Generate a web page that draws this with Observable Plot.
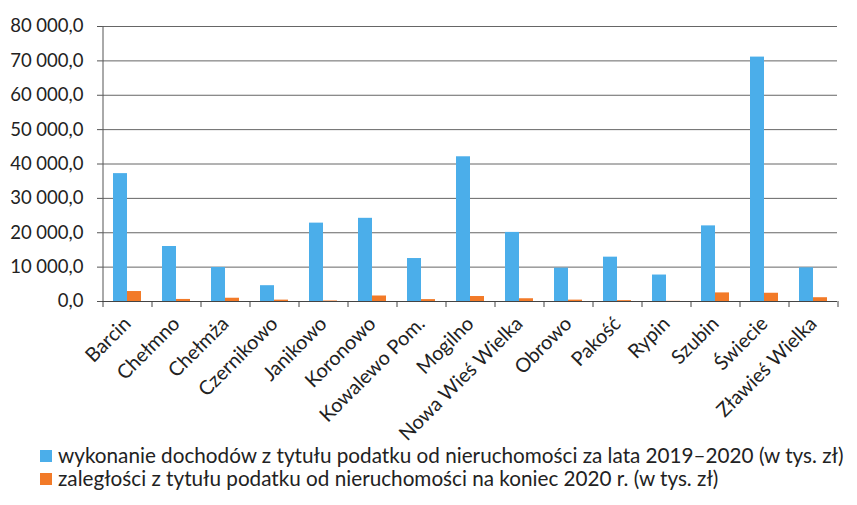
<!DOCTYPE html>
<html>
<head>
<meta charset="utf-8">
<script src="https://cdn.jsdelivr.net/npm/d3@7"></script>
<script src="https://cdn.jsdelivr.net/npm/@observablehq/plot@0.6"></script>
<style>
  html, body { margin: 0; padding: 0; background: #fff; }
  body { width: 857px; height: 505px; overflow: hidden; font-family: Lato, "Open Sans", sans-serif; color: #222; }
  #chart svg { overflow: visible; }
  #legend { margin-left: 40px; margin-top: -6px; font-size: 20.7px; line-height: 23px; position: relative; }
  .item { display: flex; align-items: center; white-space: nowrap; }
  .sw { width: 12px; height: 12px; margin-right: 6px; flex: none; }
</style>
</head>
<body>
<div id="chart"></div>
<div id="legend"></div>
<script>
const categories = ["Barcin","Chełmno","Chełmża","Czernikowo","Janikowo","Koronowo","Kowalewo Pom.","Mogilno","Nowa Wieś Wielka","Obrowo","Pakość","Rypin","Szubin","Świecie","Zławieś Wielka"];
const income  = [37200, 16000, 9900, 4600, 22800, 24200, 12500, 42100, 20100, 9700, 12900, 7700, 22000, 71100, 9800];
const arrears = [2900, 600, 950, 400, 150, 1600, 550, 1450, 800, 400, 250, 50, 2500, 2400, 1100];
const seriesNames = [
  "wykonanie dochodów z tytułu podatku od nieruchomości za lata 2019–2020 (w tys. zł)",
  "zaległości z tytułu podatku od nieruchomości na koniec 2020 r. (w tys. zł)"
];
const colors = ["#4BAEEA", "#F27A28"];
const yTicks = [0, 10000, 20000, 30000, 40000, 50000, 60000, 70000, 80000];

const data = categories.map((c, i) => ({category: c, income: income[i], arrears: arrears[i]}));

const fmt = d3.formatLocale({decimal: ",", thousands: "\u00a0", grouping: [3]}).format(",.1f");

const W = 857, ML = 102, MR = 20;
const step = (W - ML - MR) / categories.length;
const bw = 14;

const chart = Plot.plot({
  width: W,
  height: 450,
  marginLeft: ML,
  marginRight: MR,
  marginTop: 26,
  marginBottom: 149,
  style: {fontFamily: "Lato, 'Open Sans', sans-serif", fontSize: "18px", color: "#222", background: "#fff"},
  x: {domain: categories, paddingInner: 1 - bw / step, paddingOuter: (1 - bw / step) / 2, label: null},
  y: {domain: [0, 80000], label: null},
  marks: [
    Plot.gridY(yTicks, {stroke: "#666", strokeOpacity: 1}),
    Plot.axisY(yTicks, {tickSize: 5, tickPadding: 14, tickFormat: fmt, stroke: "#555", fontSize: 18.5, label: null}),
    Plot.ruleX([categories[0]], {dx: -step / 2, y1: 0, y2: 80000, stroke: "#555"}),
    Plot.barY(data, {x: "category", y: "income", fill: colors[0], dx: -bw / 2}),
    Plot.barY(data, {x: "category", y: "arrears", fill: colors[1], dx: bw / 2}),
    Plot.ruleY([0], {stroke: "#444"}),
    Plot.axisX({tickSize: 6, text: null, dx: -step / 2, stroke: "#444", label: null}),
    Plot.axisX([categories[categories.length - 1]], {tickSize: 6, text: null, dx: step / 2, stroke: "#444", label: null}),
    Plot.axisX({tickSize: 0, tickPadding: 19, tickRotate: -45, fontSize: 19.8, label: null})
  ]
});
document.getElementById("chart").appendChild(chart);

const legend = document.getElementById("legend");
seriesNames.forEach((name, i) => {
  const row = document.createElement("div");
  row.className = "item";
  const sw = document.createElement("span");
  sw.className = "sw";
  sw.style.background = colors[i];
  const t = document.createElement("span");
  t.textContent = name;
  row.appendChild(sw);
  row.appendChild(t);
  legend.appendChild(row);
});
</script>
</body>
</html>
